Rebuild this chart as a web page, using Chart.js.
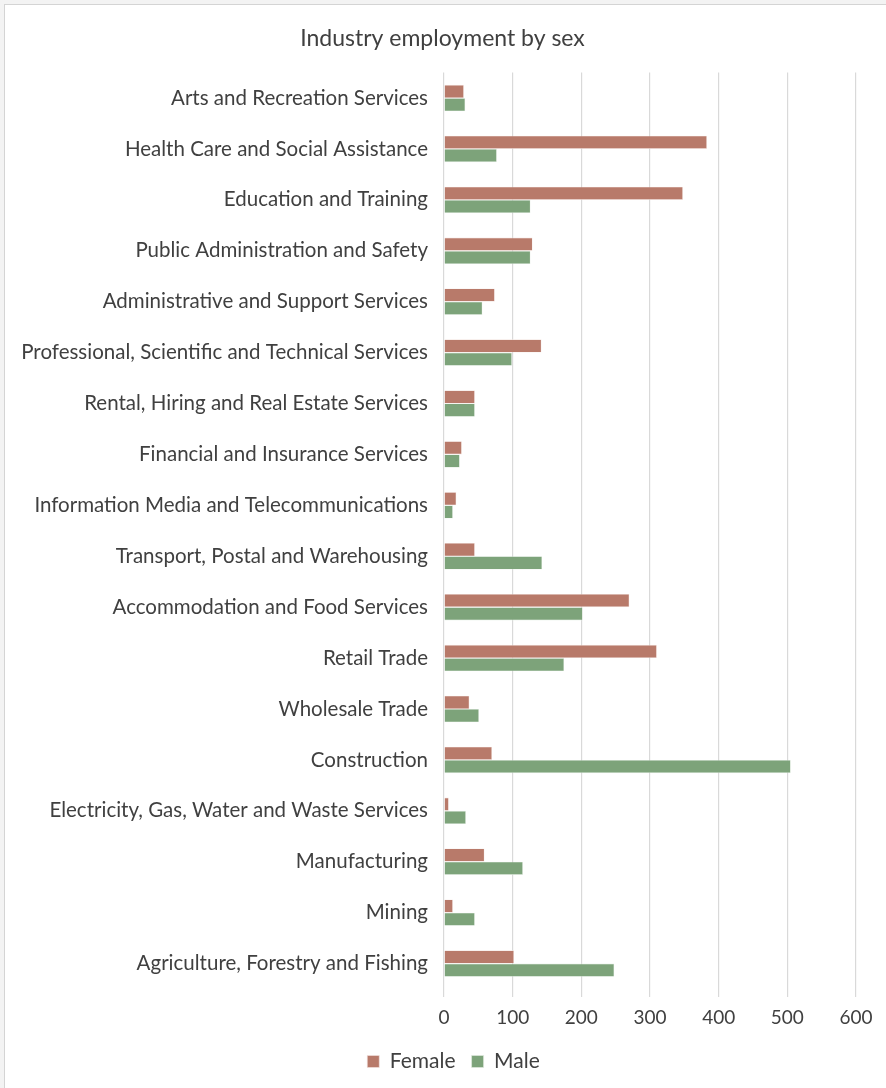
<!DOCTYPE html>
<html>
<head>
<meta charset="utf-8">
<script src="https://cdn.jsdelivr.net/npm/chart.js@4"></script>
<style>
    html, body { margin: 0; padding: 0; background: #f3f3f3; }
    #frame {
        position: absolute; left: 4px; top: 4px;
        width: 882px; height: 1084px;
        background: #fff;
        border-left: 1px solid #d4d4d4; border-top: 1px solid #d4d4d4;
    }
</style>
</head>
<body>
<div id="frame"><canvas id="grafico"></canvas></div>
<script>
// Datos (de arriba hacia abajo)
const categorias = [
    'Arts and Recreation Services',
    'Health Care and Social Assistance',
    'Education and Training',
    'Public Administration and Safety',
    'Administrative and Support Services',
    'Professional, Scientific and Technical Services',
    'Rental, Hiring and Real Estate Services',
    'Financial and Insurance Services',
    'Information Media and Telecommunications',
    'Transport, Postal and Warehousing',
    'Accommodation and Food Services',
    'Retail Trade',
    'Wholesale Trade',
    'Construction',
    'Electricity, Gas, Water and Waste Services',
    'Manufacturing',
    'Mining',
    'Agriculture, Forestry and Fishing'
];
const mujeres = [29, 383, 348, 129, 74, 142, 45, 26, 18, 45, 270, 310, 37, 70, 7, 59, 13, 102];
const hombres = [31, 77, 126, 126, 56, 99, 45, 23, 13, 143, 202, 175, 51, 505, 32, 115, 45, 248];
const ticksX = [0, 100, 200, 300, 400, 500, 600];

const fuente = 'Lato, "Open Sans", sans-serif';
const colorTexto = '#404040';

// Centrar titulo y leyenda como en Excel (sobre todo el ancho)
const desplazar = {
    id: 'desplazar',
    afterLayout(chart) {
        chart.titleBlock.left += 12;
        chart.titleBlock.right += 12;
        chart.legend.left += 23;
        chart.legend.right += 23;
    }
};

const ctx = document.getElementById('grafico').getContext('2d');
new Chart(ctx, {
    type: 'bar',
    data: {
        labels: categorias,
        datasets: [
            { label: 'Female', data: mujeres, backgroundColor: '#b87a6a', borderColor: '#f3e4e0', borderWidth: 0.6,
              barPercentage: 1, categoryPercentage: 0.52 },
            { label: 'Male', data: hombres, backgroundColor: '#7da37a', borderColor: '#e4ede3', borderWidth: 0.6,
              barPercentage: 1, categoryPercentage: 0.52 }
        ]
    },
    plugins: [desplazar],
    options: {
        indexAxis: 'y',
        responsive: true,
        maintainAspectRatio: false,
        animation: false,
        layout: { padding: { top: 0, right: 31, bottom: 7, left: 0 } },
        plugins: {
            title: {
                display: true,
                text: 'Industry employment by sex',
                color: colorTexto,
                font: { family: fuente, size: 23, weight: 'normal' },
                padding: { top: 20, bottom: 20 }
            },
            legend: {
                position: 'bottom',
                labels: {
                    color: colorTexto,
                    font: { family: fuente, size: 21 },
                    boxWidth: 12,
                    boxHeight: 12,
                    padding: 16
                }
            },
            tooltip: { enabled: false }
        },
        scales: {
            x: {
                min: 0,
                max: 600,
                afterBuildTicks: (eje) => { eje.ticks = ticksX.map(v => ({ value: v })); },
                afterFit: (eje) => { eje.height = 46; },
                grid: { color: '#d9d9d9', lineWidth: 1.2, tickLength: 8 },
                border: { display: false },
                ticks: { color: colorTexto, font: { family: fuente, size: 19 }, padding: 9 }
            },
            y: {
                afterFit: (eje) => { eje.width = 439; },
                grid: { display: false },
                border: { display: false },
                ticks: { color: colorTexto, font: { family: fuente, size: 20.5 }, padding: 8, autoSkip: false }
            }
        }
    }
});
</script>
</body>
</html>
